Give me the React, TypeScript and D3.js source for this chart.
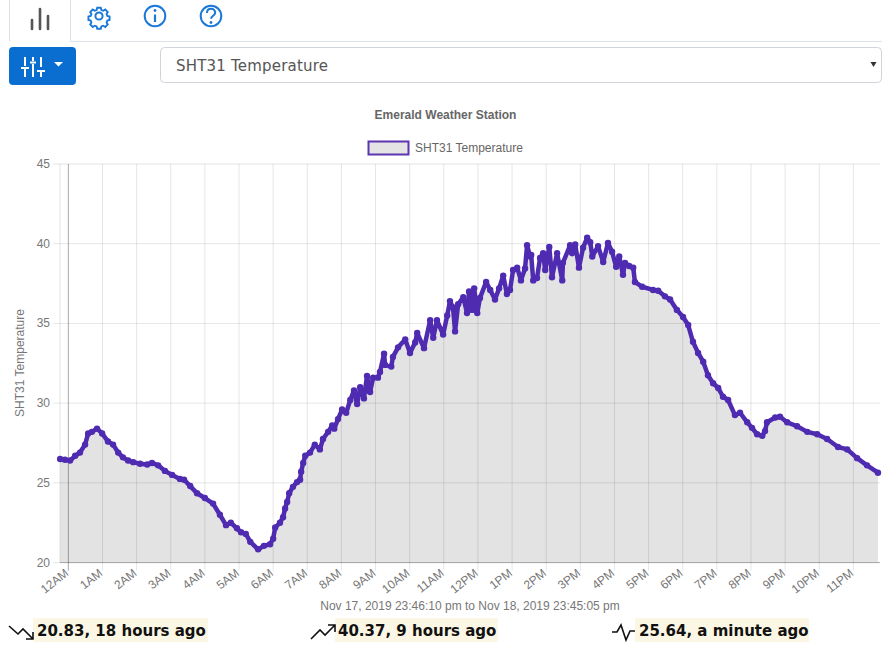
import * as d3 from "d3";

// hours since midnight Nov 18
const hours = [
  -0.24, -0.1, 0.05, 0.2, 0.34, 0.49, 0.58, 0.69, 0.84, 0.99, 1.16, 1.31, 1.46, 1.6, 1.75, 1.9, 2.1, 2.31, 2.45, 2.63,
  2.83, 3.04, 3.27, 3.39, 3.57, 3.77, 4.0, 4.24, 4.44, 4.62, 4.76, 4.94, 5.06, 5.2, 5.33, 5.56, 5.73, 5.91, 6.0, 6.06,
  6.2, 6.29, 6.35, 6.41, 6.47, 6.58, 6.7, 6.79, 6.82, 6.88, 6.94, 7.08, 7.22, 7.37, 7.46, 7.61, 7.73, 7.79, 7.9, 8.02,
  8.14, 8.26, 8.37, 8.46, 8.55, 8.66, 8.75, 8.84, 8.93, 9.07, 9.13, 9.25, 9.28, 9.46, 9.51, 9.66, 9.87, 10.01, 10.16, 10.22,
  10.42, 10.6, 10.69, 10.8, 10.98, 11.1, 11.18, 11.27, 11.33, 11.42, 11.57, 11.68, 11.74, 11.83, 11.89, 11.98, 12.06, 12.24, 12.36, 12.5,
  12.62, 12.74, 12.85, 12.94, 13.03, 13.15, 13.26, 13.38, 13.44, 13.53, 13.56, 13.62, 13.73, 13.82, 13.91, 13.97, 14.09, 14.17, 14.32, 14.47,
  14.49, 14.7, 14.76, 14.85, 14.96, 15.08, 15.2, 15.29, 15.35, 15.52, 15.67, 15.81, 15.93, 16.05, 16.14, 16.25, 16.31, 16.43, 16.55, 16.6,
  16.81, 17.13, 17.28, 17.48, 17.63, 17.83, 18.01, 18.16, 18.3, 18.45, 18.6, 18.74, 18.89, 19.04, 19.18, 19.33, 19.53, 19.68, 19.89, 20.03,
  20.18, 20.33, 20.41, 20.47, 20.71, 20.85, 21.06, 21.35, 21.65, 21.94, 22.23, 22.55, 22.82, 23.11, 23.4, 23.72,
];
const temps = [
  26.5, 26.45, 26.4, 26.7, 26.9, 27.4, 28.1, 28.2, 28.4, 28.1, 27.6, 27.4, 26.9, 26.6, 26.4, 26.3, 26.2, 26.15, 26.25, 26.1,
  25.75, 25.5, 25.25, 25.2, 24.8, 24.35, 24.05, 23.7, 23.0, 22.35, 22.5, 22.15, 21.9, 21.8, 21.3, 20.83, 21.05, 21.15, 21.5, 22.2,
  22.5, 22.85, 23.4, 23.8, 24.35, 24.75, 25.05, 25.2, 25.7, 26.25, 26.7, 26.9, 27.4, 27.1, 27.75, 28.2, 28.6, 28.4, 29.0, 29.6,
  29.4, 30.2, 30.8, 29.95, 31.0, 30.3, 31.7, 30.7, 31.6, 31.6, 31.95, 33.1, 32.4, 32.3, 32.9, 33.5, 34.0, 33.15, 33.8, 34.4,
  33.45, 35.2, 34.1, 35.2, 34.3, 35.5, 36.4, 36.0, 34.5, 36.2, 36.65, 35.65, 37.0, 35.85, 37.2, 35.65, 36.6, 37.6, 37.1, 36.5,
  37.2, 38.0, 36.85, 37.1, 38.35, 38.5, 37.7, 38.45, 39.9, 39.2, 39.3, 37.7, 37.85, 39.1, 39.4, 38.35, 39.8, 37.9, 39.4, 37.7,
  38.8, 39.9, 39.4, 39.95, 38.5, 39.75, 40.37, 40.1, 39.2, 39.85, 38.85, 40.05, 39.5, 38.55, 39.2, 38.05, 38.8, 38.6, 38.5, 37.6,
  37.3, 37.1, 37.05, 36.7, 36.5, 35.85, 35.4, 34.9, 33.85, 33.15, 32.6, 31.75, 31.25, 30.95, 30.4, 30.2, 29.25, 29.4, 28.8, 28.45,
  28.05, 27.95, 28.25, 28.8, 29.1, 29.15, 28.8, 28.55, 28.2, 28.05, 27.75, 27.25, 27.1, 26.55, 26.1, 25.64,
];

const hourTicks = d3.range(0, 24);
const hourLabels = [
  "12AM", "1AM", "2AM", "3AM", "4AM", "5AM", "6AM", "7AM", "8AM", "9AM", "10AM", "11AM",
  "12PM", "1PM", "2PM", "3PM", "4PM", "5PM", "6PM", "7PM", "8PM", "9PM", "10PM", "11PM",
];
const tempTicks = [20, 25, 30, 35, 40, 45];

const title = "Emerald Weather Station";
const seriesName = "SHT31 Temperature";
const rangeLabel = "Nov 17, 2019 23:46:10 pm to Nov 18, 2019 23:45:05 pm";
const statLabels = ["20.83, 18 hours ago", "40.37, 9 hours ago", "25.64, a minute ago"];

const sansFont = "'Liberation Sans', Arial, sans-serif";
const wideFont = "'DejaVu Sans', Verdana, sans-serif";
const blue = "#1a78d8";
const purple = "#4e2bb0";

const points = hours.map((h, i) => ({ h, t: temps[i] }));

const xScale = d3.scaleLinear().domain([-0.245, 23.78]).range([60, 880]);
const yScale = d3.scaleLinear().domain([20, 45]).range([562.6, 164]);

const lineGen = d3.line<{ h: number; t: number }>()
  .x((d) => xScale(d.h))
  .y((d) => yScale(d.t));
const areaGen = d3.area<{ h: number; t: number }>()
  .x((d) => xScale(d.h))
  .y0(yScale(20))
  .y1((d) => yScale(d.t));

const Toolbar = () => (
  <g>
    {/* tabs */}
    <path d="M9.5 0V41.5M70.5 0V41.5H882" fill="none" stroke="#dee2e6" />
    <g stroke="#555" strokeWidth={2.6} strokeLinecap="round">
      <line x1={32} y1={20} x2={32} y2={29} />
      <line x1={40} y1={9} x2={40} y2={29} />
      <line x1={48} y1={16} x2={48} y2={29} />
    </g>
    <g fill="none" stroke={blue} strokeWidth={2}>
      <circle cx={99} cy={16} r={3.6} />
      <path d="M96.6 5h4.8l.8 3 2.5 1 2.7-1.6 3.3 3.3-1.6 2.7 1 2.5 3 .8v4.600l-3 .8-1 2.500 1.600 2.700-3.300 3.300-2.700-1.600-2.500 1-.8 3h-4.800l-.8-3-2.500-1-2.700 1.600-3.300-3.300 1.600-2.700-1-2.500-3-.8v-4.600l3-.8 1-2.500-1.600-2.700 3.300-3.300 2.700 1.600 2.500-1z" transform="translate(24.75 4) scale(.75)" strokeWidth={2.5} />
      <circle cx={155} cy={16} r={10.3} />
      <circle cx={211} cy={16} r={10.3} />
      <path d="M155 14.500V22" strokeWidth={2.2} />
      <path d="M207 13c0-5.500 8.200-5.500 8.200-.2 0 3-4.100 3-4.100 6" strokeWidth={2} />
    </g>
    <circle cx={155} cy={10.500} r={1.400} fill={blue} />
    <circle cx={211} cy={22.500} r={1.400} fill={blue} />

    {/* settings button */}
    <rect x={9} y={47} width={67} height={38} rx={4} fill="#0a6ed1" />
    <g stroke="#fff" strokeWidth={2}>
      <path d="M25 57v9M25 69v8M33 57v4M33 64v13M41 57v10M41 70v7" />
      <path d="M21 68h8M30 62.500h6M37 71h8" />
    </g>
    <path d="M54 62h9l-4.500 4.500z" fill="#fff" />

    {/* series select */}
    <rect x={160.500} y={47.500} width={721} height={35} rx={4} fill="#fff" stroke="#ced4da" />
    <text x={176} y={71} fontFamily={wideFont} fontSize={15} letterSpacing={0.2} fill="#555">{seriesName}</text>
    <path d="M870.500 62h6l-3 5z" fill="#333" />
  </g>
);

const Stats = () => (
  <g>
    <rect x={33} y={618} width={175} height={24} fill="#fcf7e4" />
    <rect x={335} y={618} width={163} height={24} fill="#fcf7e4" />
    <rect x={635} y={618} width={174} height={24} fill="#fcf7e4" />
    <g fill="none" stroke="#111" strokeWidth={1.600}>
      <path d="M9 626l9 8 5-5 10 10M33 632v7h-7" />
      <path d="M311 639l9-9 5 5 10-10M328 625h7v7" />
      <path d="M612 632h5l4-7 5 15 4-9h5" />
    </g>
    <g fontFamily={wideFont} fontWeight="bold" fontSize={15} fill="#111">
      <text x={37} y={636}>{statLabels[0]}</text>
      <text x={338} y={636}>{statLabels[1]}</text>
      <text x={639} y={636}>{statLabels[2]}</text>
    </g>
  </g>
);

const Chart = () => {
  const bottom = yScale(20);
  const top = yScale(45);
  return (
    <g fontFamily={sansFont}>
      <text x={445.500} y={119} textAnchor="middle" fontSize={12} fontWeight="bold" fill="#666">{title}</text>
      <rect x={368.500} y={141.500} width={40} height={13} fill="#e4e4e4" stroke="#5e35b1" strokeWidth={2} />
      <text x={415} y={152} fontSize={12} fill="#666">{seriesName}</text>

      {/* grid */}
      <g stroke="#000" strokeOpacity={0.1}>
        {tempTicks.map((t) => (
          <line key={t} x1={53} x2={880} y1={yScale(t)} y2={yScale(t)} />
        ))}
        <line x1={60} x2={60} y1={top} y2={bottom} />
        {hourTicks.map((h) => (
          <line key={h} x1={xScale(h)} x2={xScale(h)} y1={top} y2={bottom + 8} />
        ))}
      </g>
      <line x1={xScale(0)} x2={xScale(0)} y1={top} y2={bottom + 8} stroke="#000" strokeOpacity={0.25} />
      <line x1={60} x2={880} y1={bottom} y2={bottom} stroke="#000" strokeOpacity={0.25} />

      {/* series */}
      <path d={areaGen(points) ?? ""} fill="#000" fillOpacity={0.11} />
      <path d={lineGen(points) ?? ""} fill="none" stroke={purple} strokeWidth={4.500} strokeLinejoin="round" />
      {points.map((d, i) => (
        <circle key={i} cx={xScale(d.h)} cy={yScale(d.t)} r={3.200} fill={purple} />
      ))}

      {/* axes */}
      <g fontSize={12} fill="#777">
        {tempTicks.map((t) => (
          <text key={t} x={50} y={yScale(t) + 4} textAnchor="end">{t}</text>
        ))}
        {hourTicks.map((h) => (
          <text
            key={h}
            textAnchor="end"
            transform={`translate(${xScale(h) + 1},${bottom + 12}) rotate(-38)`}
          >
            {hourLabels[h]}
          </text>
        ))}
        <text transform="translate(24,363) rotate(-90)" textAnchor="middle">{seriesName}</text>
        <text x={470} y={610} textAnchor="middle">{rangeLabel}</text>
      </g>
    </g>
  );
};

export default function App() {
  return (
    <svg
      width={889}
      height={650}
      style={{ position: "absolute", left: 0, top: 0, background: "#fff" }}
    >
      <Toolbar />
      <Chart />
      <Stats />
    </svg>
  );
}
